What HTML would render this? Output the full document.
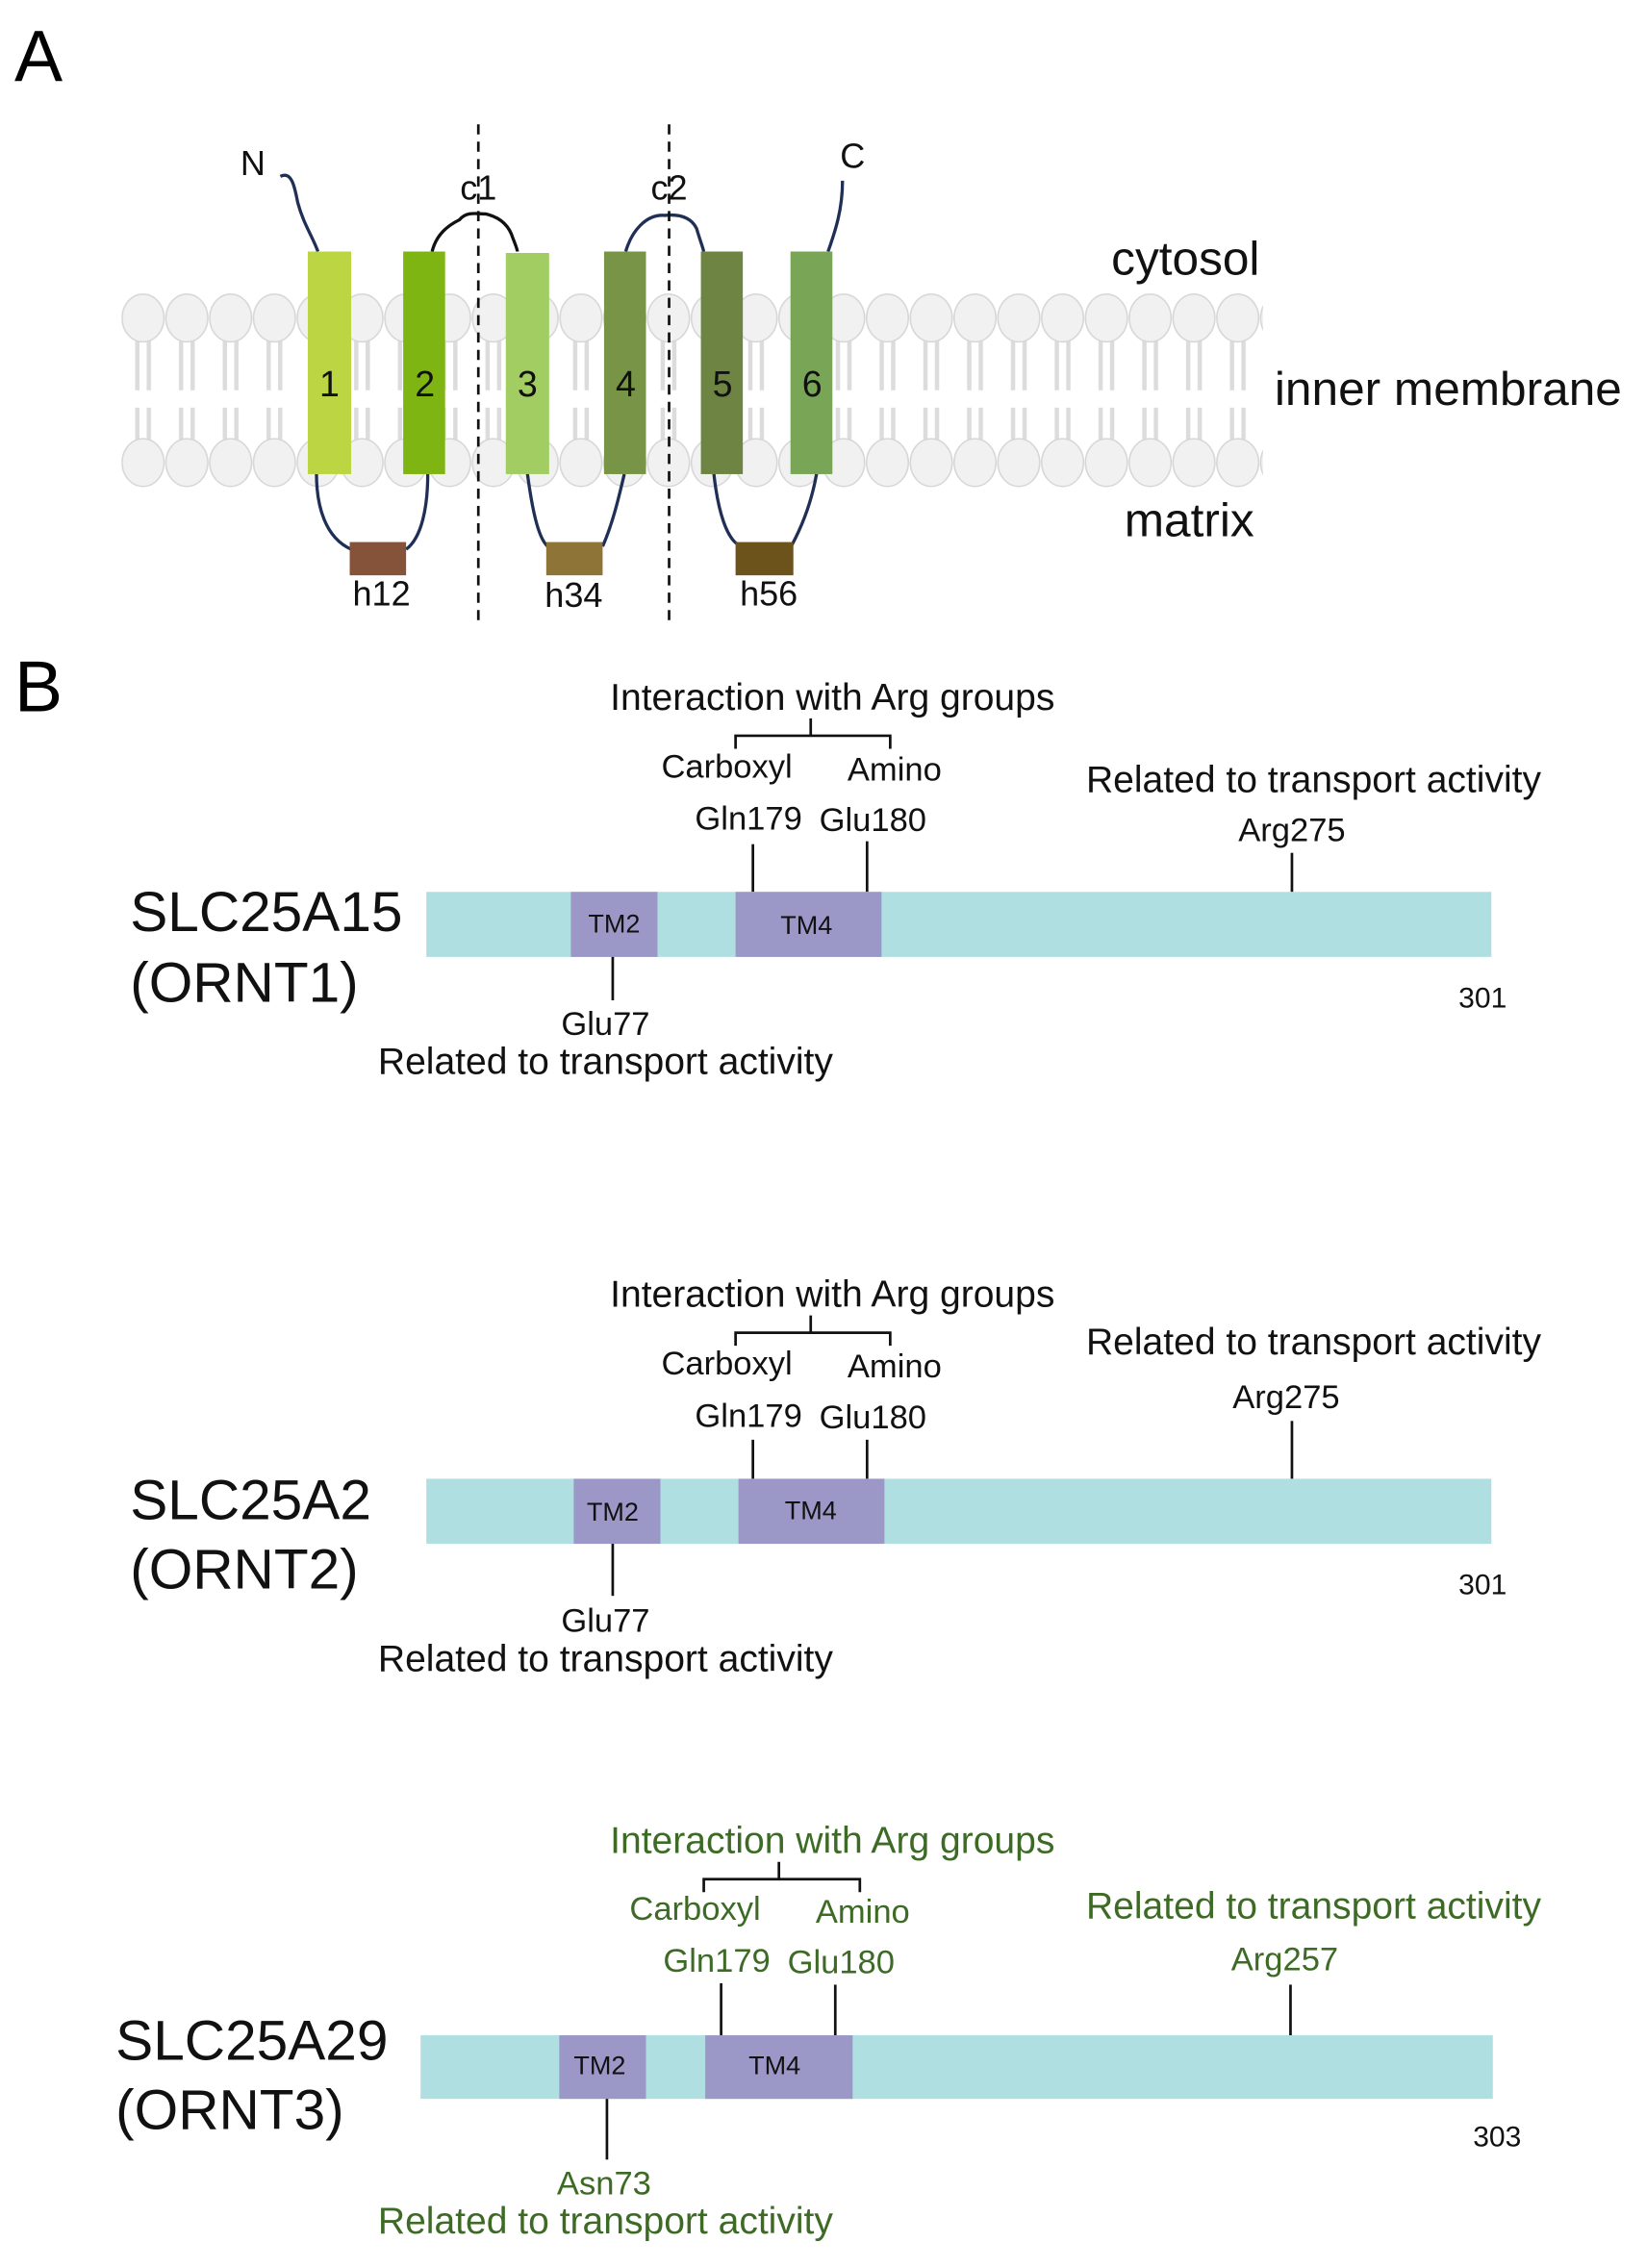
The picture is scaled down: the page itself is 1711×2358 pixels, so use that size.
<!DOCTYPE html>
<html><head><meta charset="utf-8"><style>
html,body{margin:0;padding:0;background:#fff;}
svg{display:block;}
text{font-family:"Liberation Sans",Arial,sans-serif;}
</style></head><body>
<svg width="1711" height="2358" viewBox="0 0 1139 1569" preserveAspectRatio="none" xmlns="http://www.w3.org/2000/svg">
<defs>
<pattern id="lip" patternUnits="userSpaceOnUse" x="84" y="200" width="30.3" height="150">
<line x1="11" y1="36" x2="11" y2="70" stroke="#dcdcdc" stroke-width="3"/>
<line x1="19" y1="36" x2="19" y2="70" stroke="#dcdcdc" stroke-width="3"/>
<line x1="11" y1="82" x2="11" y2="104" stroke="#dcdcdc" stroke-width="3"/>
<line x1="19" y1="82" x2="19" y2="104" stroke="#dcdcdc" stroke-width="3"/>
<ellipse cx="15" cy="20" rx="14.5" ry="16.5" fill="#f1f1f1" stroke="#d6d6d6" stroke-width="1"/>
<ellipse cx="15" cy="120" rx="14.5" ry="16.5" fill="#f1f1f1" stroke="#d6d6d6" stroke-width="1"/>
</pattern>
</defs>
<rect width="1139" height="1569" fill="#fff"/>
<text x="10" y="56" font-size="50">A</text>
<text x="10" y="492" font-size="50">B</text>

<rect x="84" y="200" width="790" height="140" fill="url(#lip)"/>

<g fill="none" stroke="#1f2f55" stroke-width="2.2">
<path d="M194 122 C202 118 204 130 206 140 C210 155 216 163 220 174"/>
<path d="M583 125 C583 145 578 160 573 174"/>
<path d="M219 328 C219 350 225 372 243 380"/>
<path d="M281 380 C292 372 296 350 296 328"/>
<path d="M365 328 C368 350 372 372 379 378"/>
<path d="M417 378 C424 362 428 345 432 328"/>
<path d="M494 328 C497 355 503 372 511 377"/>
<path d="M548 377 C556 362 562 345 565 328"/>
<path d="M433 174 C437 160 447 148 460 149 C470 148 478 150 482 158 C484 165 486 170 487 174"/>
</g>
<path d="M299 174 C302 162 310 156 318 152 C323 146 330 148 336 148 C345 150 352 155 355 165 C357 170 358 173 358 174" fill="none" stroke="#111" stroke-width="2.2"/>

<rect x="213" y="174" width="30" height="154" fill="#bcd543"/>
<rect x="279" y="174" width="29" height="154" fill="#7fb512"/>
<rect x="350" y="175" width="30" height="153" fill="#a2cd62"/>
<rect x="418" y="174" width="29" height="154" fill="#789446"/>
<rect x="485" y="174" width="29" height="154" fill="#6d8442"/>
<rect x="547" y="174" width="29" height="154" fill="#78a556"/>
<g font-size="25" text-anchor="middle" fill="#111">
<text x="228" y="274">1</text><text x="294" y="274">2</text><text x="365" y="274">3</text>
<text x="433" y="274">4</text><text x="500" y="274">5</text><text x="562" y="274">6</text>
</g>
<rect x="242" y="375" width="39" height="23" fill="#855339"/>
<rect x="378" y="375" width="39" height="23" fill="#8e7437"/>
<rect x="509" y="375" width="40" height="23" fill="#6b531b"/>
<g font-size="24" text-anchor="middle" fill="#111">
<text x="264" y="419">h12</text><text x="397" y="420">h34</text><text x="532" y="419">h56</text>
<text x="175" y="121">N</text><text x="590" y="116">C</text>
<text x="331" y="138">c1</text><text x="463" y="138">c2</text>
</g>
<g stroke="#111" stroke-width="1.8" stroke-dasharray="7,5">
<line x1="331" y1="86" x2="331" y2="432"/>
<line x1="463" y1="86" x2="463" y2="432"/>
</g>
<g font-size="33" fill="#111">
<text x="769" y="190">cytosol</text>
<text x="882" y="280">inner membrane</text>
<text x="778" y="371">matrix</text>
</g>

<!-- Section 1 -->
<g fill="#111" stroke="#111">
<text x="576" y="491" font-size="26" text-anchor="middle" stroke="none">Interaction with Arg groups</text>
<path d="M561 497 V509 M509 518 V509 H616 V518" fill="none" stroke-width="1.8"/>
<text x="503" y="538" font-size="23" text-anchor="middle" stroke="none">Carboxyl</text>
<text x="619" y="540" font-size="23" text-anchor="middle" stroke="none">Amino</text>
<text x="518" y="574" font-size="23" text-anchor="middle" stroke="none">Gln179</text>
<text x="604" y="575" font-size="23" text-anchor="middle" stroke="none">Glu180</text>
<line x1="521" y1="584" x2="521" y2="617" stroke-width="1.8"/>
<line x1="600" y1="582" x2="600" y2="617" stroke-width="1.8"/>
<text x="909" y="548" font-size="26" text-anchor="middle" stroke="none">Related to transport activity</text>
<text x="894" y="582" font-size="23" text-anchor="middle" stroke="none">Arg275</text>
<line x1="894" y1="590" x2="894" y2="617" stroke-width="1.8"/>
<rect x="295" y="617" width="737" height="45" fill="#b0dfe2" stroke="none"/>
<rect x="395" y="617" width="60" height="45" fill="#9b98c8" stroke="none"/>
<rect x="509" y="617" width="101" height="45" fill="#9b98c8" stroke="none"/>
<text x="425" y="645" font-size="18" text-anchor="middle" stroke="none">TM2</text>
<text x="558" y="646" font-size="18" text-anchor="middle" stroke="none">TM4</text>
<line x1="424" y1="662" x2="424" y2="692" stroke-width="1.8"/>
<text x="419" y="716" font-size="23" text-anchor="middle" stroke="none">Glu77</text>
<text x="419" y="743" font-size="26" text-anchor="middle" stroke="none">Related to transport activity</text>
<text x="1026" y="697" font-size="20" text-anchor="middle" stroke="none">301</text>
<text x="90" y="644" font-size="39" stroke="none">SLC25A15</text>
<text x="90" y="693" font-size="39" stroke="none">(ORNT1)</text>
</g>

<!-- Section 2 -->
<g fill="#111" stroke="#111">
<text x="576" y="904" font-size="26" text-anchor="middle" stroke="none">Interaction with Arg groups</text>
<path d="M561 910 V922 M509 931 V922 H616 V931" fill="none" stroke-width="1.8"/>
<text x="503" y="951" font-size="23" text-anchor="middle" stroke="none">Carboxyl</text>
<text x="619" y="953" font-size="23" text-anchor="middle" stroke="none">Amino</text>
<text x="518" y="987" font-size="23" text-anchor="middle" stroke="none">Gln179</text>
<text x="604" y="988" font-size="23" text-anchor="middle" stroke="none">Glu180</text>
<line x1="521" y1="996" x2="521" y2="1023" stroke-width="1.8"/>
<line x1="600" y1="996" x2="600" y2="1023" stroke-width="1.8"/>
<text x="909" y="937" font-size="26" text-anchor="middle" stroke="none">Related to transport activity</text>
<text x="890" y="974" font-size="23" text-anchor="middle" stroke="none">Arg275</text>
<line x1="894" y1="983" x2="894" y2="1023" stroke-width="1.8"/>
<rect x="295" y="1023" width="737" height="45" fill="#b0dfe2" stroke="none"/>
<rect x="397" y="1023" width="60" height="45" fill="#9b98c8" stroke="none"/>
<rect x="511" y="1023" width="101" height="45" fill="#9b98c8" stroke="none"/>
<text x="424" y="1052" font-size="18" text-anchor="middle" stroke="none">TM2</text>
<text x="561" y="1051" font-size="18" text-anchor="middle" stroke="none">TM4</text>
<line x1="424" y1="1068" x2="424" y2="1104" stroke-width="1.8"/>
<text x="419" y="1129" font-size="23" text-anchor="middle" stroke="none">Glu77</text>
<text x="419" y="1156" font-size="26" text-anchor="middle" stroke="none">Related to transport activity</text>
<text x="1026" y="1103" font-size="20" text-anchor="middle" stroke="none">301</text>
<text x="90" y="1051" font-size="39" stroke="none">SLC25A2</text>
<text x="90" y="1099" font-size="39" stroke="none">(ORNT2)</text>
</g>

<!-- Section 3 -->
<g fill="#3d6b26" stroke="#111">
<text x="576" y="1282" font-size="26" text-anchor="middle" stroke="none">Interaction with Arg groups</text>
<path d="M539 1288 V1300 M487 1309 V1300 H595 V1309" fill="none" stroke-width="1.8"/>
<text x="481" y="1328" font-size="23" text-anchor="middle" stroke="none">Carboxyl</text>
<text x="597" y="1330" font-size="23" text-anchor="middle" stroke="none">Amino</text>
<text x="496" y="1364" font-size="23" text-anchor="middle" stroke="none">Gln179</text>
<text x="582" y="1365" font-size="23" text-anchor="middle" stroke="none">Glu180</text>
<line x1="499" y1="1372" x2="499" y2="1408" stroke-width="1.8"/>
<line x1="578" y1="1373" x2="578" y2="1408" stroke-width="1.8"/>
<text x="909" y="1327" font-size="26" text-anchor="middle" stroke="none">Related to transport activity</text>
<text x="889" y="1363" font-size="23" text-anchor="middle" stroke="none">Arg257</text>
<line x1="893" y1="1373" x2="893" y2="1408" stroke-width="1.8"/>
<rect x="291" y="1408" width="742" height="44" fill="#b0dfe2" stroke="none"/>
<rect x="387" y="1408" width="60" height="44" fill="#9b98c8" stroke="none"/>
<rect x="488" y="1408" width="102" height="44" fill="#9b98c8" stroke="none"/>
<text x="415" y="1435" font-size="18" text-anchor="middle" fill="#111" stroke="none">TM2</text>
<text x="536" y="1435" font-size="18" text-anchor="middle" fill="#111" stroke="none">TM4</text>
<line x1="420" y1="1452" x2="420" y2="1494" stroke-width="1.8"/>
<text x="418" y="1518" font-size="23" text-anchor="middle" stroke="none">Asn73</text>
<text x="419" y="1545" font-size="26" text-anchor="middle" stroke="none">Related to transport activity</text>
<text x="1036" y="1485" font-size="20" text-anchor="middle" fill="#111" stroke="none">303</text>
<text x="80" y="1425" font-size="39" fill="#111" stroke="none">SLC25A29</text>
<text x="80" y="1473" font-size="39" fill="#111" stroke="none">(ORNT3)</text>
</g>
</svg>
</body></html>
